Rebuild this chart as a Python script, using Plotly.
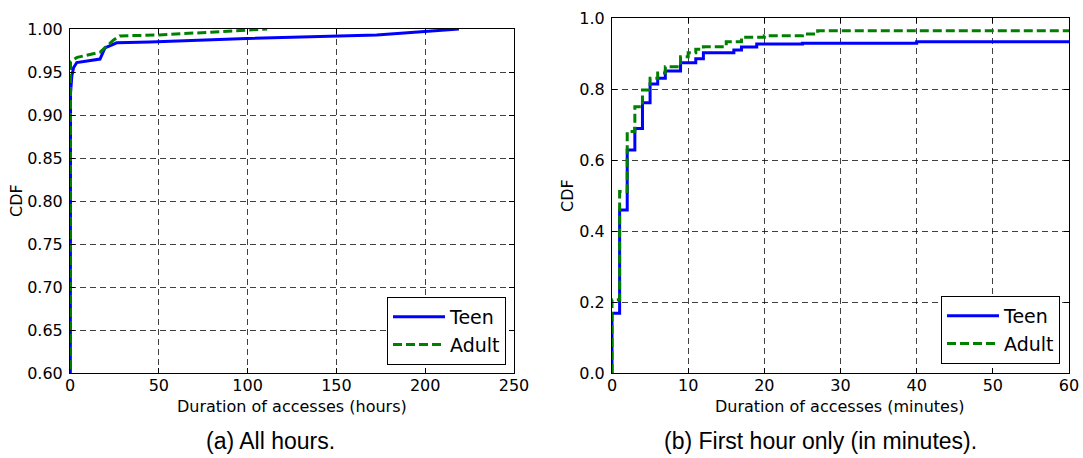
import plotly.graph_objects as go

# (a) All hours -- empirical CDF of access duration, in hours
teen_hours_x = [0, 0.3, 1, 2, 3.8, 10, 16.9, 19.7, 26.3, 45, 84, 99.5, 172.7, 200.8, 219]
teen_hours_y = [0.0, 0.925, 0.945, 0.955, 0.961, 0.963, 0.965, 0.978, 0.984, 0.985, 0.988, 0.989, 0.993, 0.997, 1.0]
adult_hours_x = [0, 0.3, 4, 17, 24.4, 28, 50, 84, 99.5, 111]
adult_hours_y = [0.0, 0.962, 0.967, 0.973, 0.987, 0.992, 0.993, 0.997, 0.998, 1.0]

# (b) First hour only -- empirical CDF, in minutes
teen_min_x = [0, 0, 1, 2, 3, 4, 5, 6, 7, 9, 11, 12, 16, 17, 19, 25, 40, 60]
teen_min_y = [0.0, 0.168, 0.459, 0.628, 0.689, 0.761, 0.814, 0.830, 0.851, 0.874, 0.885, 0.902,
              0.910, 0.918, 0.927, 0.929, 0.933, 0.935]
adult_min_x = [0, 0, 1, 2, 3, 4, 5, 6, 7, 9, 10, 11, 12, 15, 17, 20, 25, 27, 60]
adult_min_y = [0.0, 0.206, 0.511, 0.680, 0.750, 0.797, 0.830, 0.845, 0.863, 0.891, 0.902, 0.912,
               0.919, 0.933, 0.946, 0.950, 0.955, 0.964, 0.964]

left_yticks = [0.60, 0.65, 0.70, 0.75, 0.80, 0.85, 0.90, 0.95, 1.00]
left_xticks = [0, 50, 100, 150, 200, 250]
right_yticks = [0.0, 0.2, 0.4, 0.6, 0.8, 1.0]
right_xticks = [0, 10, 20, 30, 40, 50, 60]

W, H = 1083, 458
BLUE = "#0000ff"
GREEN = "#008000"
TICK_FONT = dict(family="DejaVu Sans", size=16, color="black")
LABEL_FONT = dict(family="DejaVu Sans", size=16, color="black")
LEGEND_FONT = dict(family="DejaVu Sans", size=19, color="black")
CAPTION_FONT = dict(family="Liberation Sans", size=23, color="black")


def px_x(p):
    return p / W


def px_y(p):
    return (H - p) / H


fig = go.Figure()

fig.add_trace(go.Scatter(x=teen_hours_x, y=teen_hours_y, mode="lines", name="Teen",
                         line=dict(color=BLUE, width=3), xaxis="x", yaxis="y", legend="legend"))
fig.add_trace(go.Scatter(x=adult_hours_x, y=adult_hours_y, mode="lines", name="Adult",
                         line=dict(color=GREEN, width=3, dash="9px,4px"), xaxis="x", yaxis="y",
                         legend="legend"))
fig.add_trace(go.Scatter(x=teen_min_x, y=teen_min_y, mode="lines", name="Teen",
                         line=dict(color=BLUE, width=3, shape="hv"), xaxis="x2", yaxis="y2",
                         legend="legend2"))
fig.add_trace(go.Scatter(x=adult_min_x, y=adult_min_y, mode="lines", name="Adult",
                         line=dict(color=GREEN, width=3, dash="9px,4px", shape="hv"),
                         xaxis="x2", yaxis="y2", legend="legend2"))

axis_common = dict(
    showline=True, linecolor="black", linewidth=1, mirror="allticks",
    ticks="inside", ticklen=5, tickcolor="black", tickwidth=1,
    showgrid=True, gridcolor="rgba(0,0,0,0.75)", gridwidth=1, griddash="6px,4px",
    zeroline=False, tickfont=TICK_FONT, automargin=False,
)
xaxis_common = dict(axis_common, ticklabelstandoff=-2)
yaxis_common = dict(axis_common, ticklabelstandoff=3)

legend_common = dict(xanchor="right", yanchor="bottom", bordercolor="black", borderwidth=1,
                     bgcolor="white", font=LEGEND_FONT, itemwidth=52)

fig.update_layout(
    width=W, height=H,
    margin=dict(l=0, r=0, t=0, b=0, autoexpand=False),
    paper_bgcolor="white", plot_bgcolor="white",
    xaxis=dict(domain=[px_x(70), px_x(514)], range=[0, 250], tickvals=left_xticks,
               anchor="y", **xaxis_common),
    yaxis=dict(domain=[px_y(373), px_y(29)], range=[0.6, 1.0], tickvals=left_yticks,
               tickformat=".2f", anchor="x", **yaxis_common),
    xaxis2=dict(domain=[px_x(612), px_x(1069)], range=[0, 60], tickvals=right_xticks,
                anchor="y2", **xaxis_common),
    yaxis2=dict(domain=[px_y(373), px_y(18)], range=[0.0, 1.0], tickvals=right_yticks,
                tickformat=".1f", anchor="x2", **yaxis_common),
    legend=dict(x=px_x(506), y=px_y(365), **legend_common),
    legend2=dict(x=px_x(1060), y=px_y(364), **legend_common),
    showlegend=True,
)

annotations = [
    dict(text="CDF", x=px_x(17), y=px_y(201), textangle=-90, font=LABEL_FONT),
    dict(text="CDF", x=px_x(567), y=px_y(196), textangle=-90, font=LABEL_FONT),
    dict(text="Duration of accesses (hours)", x=px_x(292), y=px_y(406), font=LABEL_FONT),
    dict(text="Duration of accesses (minutes)", x=px_x(840), y=px_y(406), font=LABEL_FONT),
    dict(text="(a) All hours.", x=px_x(270), y=px_y(441), font=CAPTION_FONT),
    dict(text="(b) First hour only (in minutes).", x=px_x(820), y=px_y(441), font=CAPTION_FONT),
]
for a in annotations:
    fig.add_annotation(xref="paper", yref="paper", showarrow=False,
                       xanchor="center", yanchor="middle", **a)

fig.write_html("out.html")
